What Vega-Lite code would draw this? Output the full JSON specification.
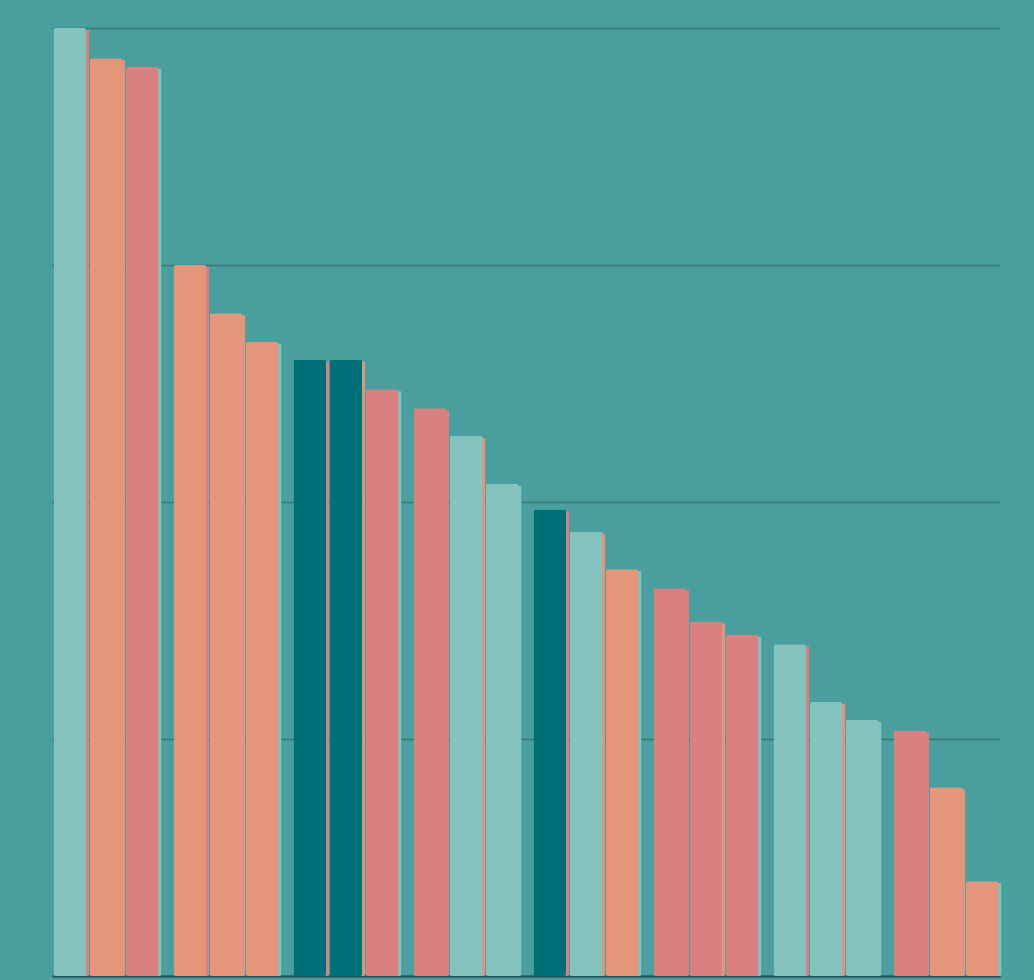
{
  "$schema": "https://vega.github.io/schema/vega-lite/v6.json",
  "autosize": "none",
  "width": 948,
  "height": 948,
  "padding": {"left": 52, "top": 28, "right": 34, "bottom": 4},
  "background": "#4a9e9d",
  "config": {"view": {"stroke": null}},
  "data": {"values": [
    {"g": 1, "i": 1, "v": 100, "c": "A", "s": "C"},
    {"g": 1, "i": 2, "v": 96.8, "c": "B", "s": "B"},
    {"g": 1, "i": 3, "v": 95.9, "c": "C", "s": "A"},
    {"g": 2, "i": 1, "v": 75, "c": "B", "s": "C"},
    {"g": 2, "i": 2, "v": 69.9, "c": "B", "s": "B"},
    {"g": 2, "i": 3, "v": 66.9, "c": "B", "s": "A"},
    {"g": 3, "i": 1, "v": 65, "c": "D", "s": "C"},
    {"g": 3, "i": 2, "v": 65, "c": "D", "s": "B"},
    {"g": 3, "i": 3, "v": 61.9, "c": "C", "s": "A"},
    {"g": 4, "i": 1, "v": 59.9, "c": "C", "s": "C"},
    {"g": 4, "i": 2, "v": 57, "c": "A", "s": "B"},
    {"g": 4, "i": 3, "v": 51.9, "c": "A", "s": "A"},
    {"g": 5, "i": 1, "v": 49.2, "c": "D", "s": "C"},
    {"g": 5, "i": 2, "v": 46.9, "c": "A", "s": "B"},
    {"g": 5, "i": 3, "v": 42.9, "c": "B", "s": "A"},
    {"g": 6, "i": 1, "v": 40.9, "c": "C", "s": "C"},
    {"g": 6, "i": 2, "v": 37.4, "c": "C", "s": "B"},
    {"g": 6, "i": 3, "v": 36, "c": "C", "s": "A"},
    {"g": 7, "i": 1, "v": 35, "c": "A", "s": "C"},
    {"g": 7, "i": 2, "v": 28.9, "c": "A", "s": "B"},
    {"g": 7, "i": 3, "v": 27, "c": "A", "s": "A"},
    {"g": 8, "i": 1, "v": 25.9, "c": "C", "s": "C"},
    {"g": 8, "i": 2, "v": 19.9, "c": "B", "s": "B"},
    {"g": 8, "i": 3, "v": 10, "c": "B", "s": "A"}
  ]},
  "encoding": {
    "x": {"field": "g", "type": "ordinal",
      "scale": {"paddingInner": 0.125, "paddingOuter": 0.0125},
      "axis": {"title": null, "labels": false, "ticks": false, "domain": true, "domainColor": "#1f4f50", "domainWidth": 2}},
    "y": {"field": "v", "type": "quantitative",
      "scale": {"domain": [0, 100], "nice": false},
      "axis": {"title": null, "labels": false, "ticks": false, "domain": false, "values": [0, 25, 50, 75, 100], "grid": true, "gridColor": "#2f6f70", "gridWidth": 1.5, "gridOpacity": 0.8}}
  },
  "layer": [
    {
      "mark": {"type": "bar", "yOffset": 2, "cornerRadius": 2},
      "encoding": {
        "xOffset": {"field": "i", "type": "ordinal", "scale": {"paddingInner": 0.1, "paddingOuter": 0, "range": [3, 108]}},
        "color": {"field": "s", "type": "nominal", "legend": null,
          "scale": {"domain": ["A", "B", "C", "D"], "range": ["#85c3be", "#e3967a", "#d98080", "#007078"]}}
      }
    },
    {
      "mark": {"type": "bar", "cornerRadius": 2},
      "encoding": {
        "xOffset": {"field": "i", "type": "ordinal", "scale": {"paddingInner": 0.1, "paddingOuter": 0}},
        "color": {"field": "c", "type": "nominal", "legend": null,
          "scale": {"domain": ["A", "B", "C", "D"], "range": ["#85c3be", "#e3967a", "#d98080", "#007078"]}}
      }
    }
  ],
  "resolve": {"scale": {"xOffset": "independent"}}
}
